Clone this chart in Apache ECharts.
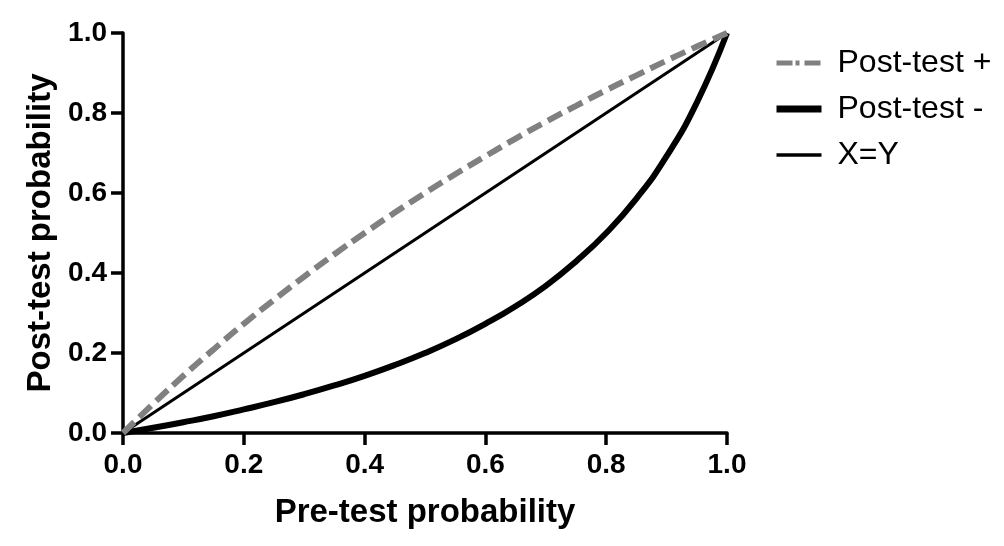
<!DOCTYPE html>
<html>
<head>
<meta charset="utf-8">
<script src="https://cdn.jsdelivr.net/npm/echarts@6/dist/echarts.min.js"></script>
<style>
  html, body { margin: 0; padding: 0; background: #fff; }
  #chart { width: 1004px; height: 546px; }
</style>
</head>
<body>
<div id="chart"></div>
<script>
// pre-test probability (x) and values
const preTest = [0, 0.05, 0.1, 0.15, 0.2, 0.25, 0.3, 0.35, 0.4, 0.45, 0.5, 0.55, 0.6, 0.65, 0.7, 0.75, 0.8, 0.85, 0.9, 0.95, 1.0]
const postPos = [0, 0.073, 0.143, 0.209, 0.273, 0.333, 0.391, 0.447, 0.5, 0.551, 0.6, 0.647, 0.692, 0.736, 0.778, 0.818, 0.857, 0.894, 0.931, 0.966, 1.0]
const postNeg = [0, 0.013, 0.027, 0.042, 0.059, 0.077, 0.097, 0.119, 0.143, 0.17, 0.2, 0.234, 0.273, 0.317, 0.368, 0.429, 0.5, 0.586, 0.692, 0.826, 1.0]
const identity = [0, 1.0]
const identityX = [0, 1.0]
const seriesNames = ['Post-test +', 'Post-test -', 'X=Y']

const FONT = '"Liberation Sans", Arial, Helvetica, sans-serif'
const GRAY = '#808080'

const pairs = (xs, ys) => xs.map((x, i) => [x, ys[i]])

const chart = echarts.init(document.getElementById('chart'))

const axisCommon = {
  type: 'value',
  min: 0,
  max: 1,
  interval: 0.2,
  nameLocation: 'middle',
  nameTextStyle: { fontFamily: FONT, fontWeight: 'bold', fontSize: 33, color: '#000' },
  axisLine: { lineStyle: { color: '#000', width: 3.5 } },
  axisTick: { show: true, inside: false, length: 12, lineStyle: { color: '#000', width: 3.5 } },
  axisLabel: {
    fontFamily: FONT, fontWeight: 'bold', fontSize: 28, color: '#000',
    formatter: (v) => v.toFixed(1),
  },
  splitLine: { show: false },
}

chart.setOption({
  animation: false,
  backgroundColor: '#fff',
  grid: { left: 123, right: 277, top: 33, bottom: 113, containLabel: false },
  xAxis: Object.assign({}, axisCommon, {
    name: 'Pre-test probability',
    nameGap: 63,
    axisLabel: Object.assign({}, axisCommon.axisLabel, { margin: 18 }),
  }),
  yAxis: Object.assign({}, axisCommon, {
    name: 'Post-test probability',
    nameGap: 57,
    axisLabel: Object.assign({}, axisCommon.axisLabel, { margin: 16 }),
  }),
  legend: {
    orient: 'vertical',
    left: 768,
    top: 42,
    itemWidth: 45,
    itemHeight: 14,
    itemGap: 14,
    itemStyle: { opacity: 0 },
    textStyle: { fontFamily: FONT, fontSize: 32, color: '#000', padding: [0, 0, 0, 11] },
    data: [
      { name: seriesNames[0], lineStyle: { type: [16, 3, 4, 5], width: 5, color: GRAY } },
      { name: seriesNames[1], lineStyle: { type: 'solid', width: 7, color: '#000' } },
      { name: seriesNames[2], lineStyle: { type: 'solid', width: 3.5, color: '#000' } },
    ],
  },
  series: [
    {
      name: seriesNames[2],
      type: 'line',
      data: pairs(identityX, identity),
      showSymbol: false,
      symbol: 'none',
      itemStyle: { color: '#000' },
      lineStyle: { color: '#000', width: 3 },
    },
    {
      name: seriesNames[1],
      type: 'line',
      smooth: true,
      data: pairs(preTest, postNeg),
      showSymbol: false,
      symbol: 'none',
      itemStyle: { color: '#000' },
      lineStyle: { color: '#000', width: 6 },
    },
    {
      name: seriesNames[0],
      type: 'line',
      smooth: true,
      data: pairs(preTest, postPos),
      showSymbol: false,
      symbol: 'none',
      itemStyle: { color: GRAY },
      lineStyle: { color: GRAY, width: 6, type: [16, 7] },
    },
  ],
})
</script>
</body>
</html>
